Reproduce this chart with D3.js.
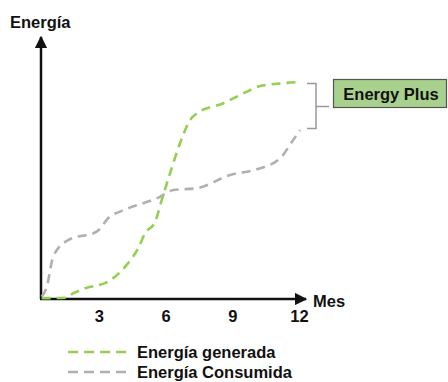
<!DOCTYPE html>
<html><head><meta charset="utf-8">
<script src="https://cdn.jsdelivr.net/npm/d3@7"></script>
<style>body{margin:0;background:#fff}svg{display:block}text{font-family:"Liberation Sans",Arial,sans-serif;font-weight:bold;fill:#111}</style>
</head><body><svg id="c" width="448" height="382"></svg>
<script>
const monthTicks = [3, 6, 9, 12];
const genMonths = [0.43,1.48,1.85,2.45,3.35,4.25,4.77,5.08,5.53,5.83,6.2,6.65,7.1,7.4,8.6,9.5,10.25,11.29,12.05];
const genValues = [0.3,0.5,2.2,4.3,6.4,13.1,19.5,25.3,29.7,38.1,48.3,59.9,68.8,71.4,75.3,79.1,81.9,83.0,83.5];
const conMonths = [0.43,0.66,0.95,1.63,2.9,3.5,3.95,5.75,6.35,7.4,8.9,10.1,11.15,11.74,12.05];
const conValues = [0.9,4.7,16.3,22.7,25.9,31.7,33.6,39.3,41.9,42.6,47.7,49.9,54.1,61.2,65];
const seriesNames = ["Energía generada", "Energía Consumida"];
const colors = ["#92d050", "#b0b0b0"];

const svg = d3.select("#c");
const x = d3.scaleLinear().domain([0.4, 12]).range([41, 299]);
const y = d3.scaleLinear().domain([0, 100]).range([299, 39]);

const defs = svg.append("defs");
defs.append("marker").attr("id","arr").attr("viewBox","0 0 10 10").attr("refX",9).attr("refY",5)
  .attr("markerWidth",5).attr("markerHeight",5).attr("orient","auto")
  .append("path").attr("d","M0,0L10,5L0,10Z").attr("fill","#111");

// axes
svg.append("line").attr("x1",41).attr("y1",299).attr("x2",41).attr("y2",37)
  .attr("stroke","#111").attr("stroke-width",2.5).attr("marker-end","url(#arr)");
svg.append("line").attr("x1",40).attr("y1",299).attr("x2",306).attr("y2",299)
  .attr("stroke","#111").attr("stroke-width",2.5).attr("marker-end","url(#arr)");

const xAxis = d3.axisBottom(x).tickValues(monthTicks).tickSize(0).tickPadding(11);
const gx = svg.append("g").attr("transform","translate(0,299)").call(xAxis);
gx.select(".domain").remove();
gx.selectAll("text").style("font-size","16.5px").style("font-family","'Liberation Sans',Arial,sans-serif").style("font-weight","bold").attr("fill","#111");

svg.append("text").attr("x",10).attr("y",28).style("font-size","16.5px").text("Energía");
svg.append("text").attr("x",313).attr("y",307).style("font-size","16.5px").text("Mes");

const line = d3.line().x(d=>x(d[0])).y(d=>y(d[1])).curve(d3.curveMonotoneX);
const data = [d3.zip(genMonths, genValues), d3.zip(conMonths, conValues)];
[1,0].forEach(i=>{
  svg.append("path").attr("d", line(data[i])).attr("fill","none")
    .attr("stroke", colors[i]).attr("stroke-width",2.6).attr("stroke-dasharray","9,6");
});

// bracket
svg.append("path").attr("d","M307,83.5H316V128.5H307M316,106.5H329")
  .attr("fill","none").attr("stroke","#999").attr("stroke-width",1.5);

// Energy Plus box
svg.append("rect").attr("x",333.5).attr("y",79.5).attr("width",113).attr("height",28)
  .attr("fill","#a9d18e").attr("stroke","#555").attr("stroke-width",1.2);
svg.append("text").attr("x",391).attr("y",99.5).attr("text-anchor","middle").style("font-size","16.5px").text("Energy Plus");

// legend
seriesNames.forEach((n,i)=>{
  const yy = 352 + i*20;
  svg.append("line").attr("x1",68).attr("x2",127).attr("y1",yy).attr("y2",yy)
    .attr("stroke",colors[i]).attr("stroke-width",2.6).attr("stroke-dasharray","10,6");
  svg.append("text").attr("x",137).attr("y",yy+6).style("font-size","16.5px").text(n);
});
</script></body></html>
